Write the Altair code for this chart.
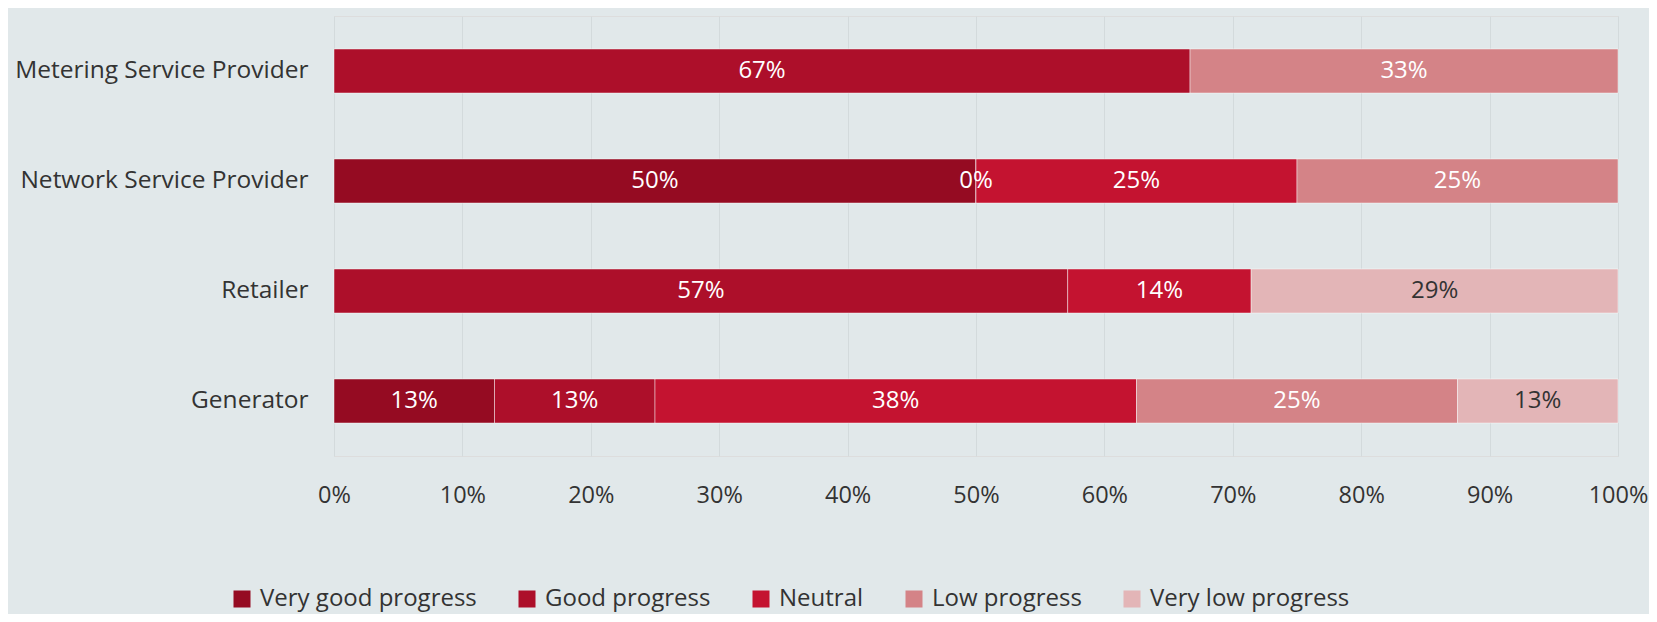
import altair as alt
import pandas as pd

roles = ["Metering Service Provider", "Network Service Provider", "Retailer", "Generator"]
categories = ["Very good progress", "Good progress", "Neutral", "Low progress", "Very low progress"]
colors = ["#950B22", "#AD0F2A", "#C41330", "#D48387", "#E3B5B7"]

# share of each category per role (None = no segment)
metering = [None, 0.6667, None, 0.3333, None]
network = [0.50, 0.0, 0.25, 0.25, None]
retailer = [None, 0.5714, 0.1429, None, 0.2857]
generator = [0.125, 0.125, 0.375, 0.25, 0.125]

shares = dict(zip(roles, [metering, network, retailer, generator]))

rows = []
for r in roles:
    for i, c in enumerate(categories):
        v = shares[r][i]
        if v is None:
            continue
        rows.append({"role": r, "category": c, "order": i, "share": v})
df = pd.DataFrame(rows)

FONT = "Open Sans"
TXT = "#333333"

base = alt.Chart(df).transform_stack(
    stack="share",
    groupby=["role"],
    sort=[alt.SortField("order", order="ascending")],
    as_=["x0", "x1"],
).transform_calculate(mid="(datum.x0 + datum.x1) / 2")

y_enc = alt.Y(
    "role:N",
    sort=roles,
    title=None,
    scale=alt.Scale(paddingInner=0.6, paddingOuter=0.3),
    axis=alt.Axis(
        labelFontSize=24.5,
        labelColor=TXT,
        labelFont=FONT,
        labelPadding=26,
        ticks=False,
        tickSize=0,
        domain=False,
        grid=False,
        labelLimit=400,
    ),
)

bars = base.mark_bar(stroke="white", strokeOpacity=0.45, strokeWidth=1).encode(
    x=alt.X(
        "x0:Q",
        title=None,
        scale=alt.Scale(domain=[0, 1]),
        axis=alt.Axis(
            format=".0%",
            values=[0, 0.1, 0.2, 0.3, 0.4, 0.5, 0.6, 0.7, 0.8, 0.9, 1.0],
            labelFontSize=23.5,
            labelColor=TXT,
            labelFont=FONT,
            labelPadding=27,
            labelFlush=False,
            ticks=False,
            tickSize=0,
            domain=False,
            grid=True,
            gridColor="#D3DADC",
            gridWidth=1,
        ),
    ),
    x2="x1:Q",
    y=y_enc,
    color=alt.Color(
        "category:N",
        scale=alt.Scale(domain=categories, range=colors),
        legend=alt.Legend(
            title=None,
            orient="none",
            legendX=-104,
            legendY=571,
            direction="horizontal",
            symbolType="square",
            symbolSize=289,
            symbolStrokeWidth=0,
            labelFontSize=24,
            labelFont=FONT,
            labelColor=TXT,
            labelOffset=6,
            columnPadding=38,
            padding=0,
            labelLimit=400,
        ),
    ),
)

text = base.mark_text(fontSize=24, font=FONT, baseline="middle").encode(
    x="mid:Q",
    y=alt.Y("role:N", sort=roles),
    text=alt.Text("share:Q", format=".0%"),
    color=alt.condition(
        alt.datum.category == "Very low progress", alt.value(TXT), alt.value("#FFFFFF")
    ),
)

chart = (
    alt.layer(bars, text)
    .properties(
        width=1284,
        height=440,
        autosize=alt.AutoSizeParams(type="none"),
        padding={"left": 326, "top": 8, "right": 31, "bottom": 158},
        background="#E1E8EA",
    )
    .configure_view(stroke=None)
    .configure(font=FONT)
)

chart.save("out.html", embed_options={"renderer": "svg", "actions": False})
